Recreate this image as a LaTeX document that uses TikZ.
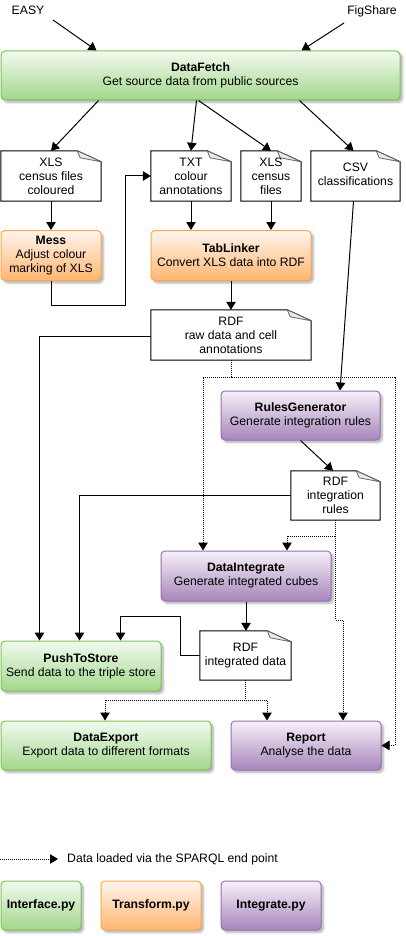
\documentclass[tikz,border=0pt]{standalone}
\usepackage{fontspec}
\setmainfont{Liberation Sans}
\usetikzlibrary{arrows.meta,shadows.blur,calc}
\definecolor{gS}{HTML}{7DC25A}
\definecolor{gT}{HTML}{F3FAF0}
\definecolor{gB}{HTML}{A2D78B}
\definecolor{oS}{HTML}{FFA64D}
\definecolor{oT}{HTML}{FFF5EE}
\definecolor{oB}{HTML}{FFB570}
\definecolor{pS}{HTML}{9A6FB0}
\definecolor{pT}{HTML}{F6F1F9}
\definecolor{pB}{HTML}{A785BA}
\tikzset{
  lbl/.style={font=\fontsize{12.2}{14}\selectfont, align=center, inner sep=0pt},
  box/.style={lbl, rounded corners=4pt, line width=1pt, minimum height=50pt,
    blur shadow={shadow xshift=2.5pt, shadow yshift=-2.5pt, shadow blur radius=2pt, shadow blur steps=5, shadow opacity=30}},
  gbox/.style={box, draw=gS, top color=gT, bottom color=gB},
  obox/.style={box, draw=oS, top color=oT, bottom color=oB},
  pbox/.style={box, draw=pS, top color=pT, bottom color=pB},
  docnode/.style={lbl, minimum height=50pt},
  docline/.style={draw=black, fill=white, line width=1pt},
  foldline/.style={draw=black!60, fill=black!8, line width=0.8pt, line join=round},
  arr/.style={-{Triangle[length=8pt,width=9.5pt]}, line width=1pt},
  plain/.style={line width=1pt},
  sparql/.style={dash pattern=on 1pt off 1pt, line width=1pt},
}
\newcommand{\docout}[1]{%
  \path[docline] (#1.north west) -- ([xshift=-24pt]#1.north east) -- ([yshift=-11pt]#1.north east) -- (#1.south east) -- (#1.south west) -- cycle;
  \path[foldline] ([xshift=-24pt]#1.north east) .. controls ([xshift=-23pt,yshift=-4pt]#1.north east) .. ([xshift=-21pt,yshift=-7pt]#1.north east) -- ([yshift=-11pt]#1.north east) -- cycle;
}
\begin{document}
\begin{tikzpicture}[x=1pt,y=-1pt]
\useasboundingbox (0,0) rectangle (406,936);

% sources
\node[lbl] (EASY) at (28,10) {EASY};
\node[lbl] (FigShare) at (372,11) {FigShare};
\coordinate (e1) at (53,20);
\coordinate (f1) at (344,23);

% main boxes
\node[gbox, minimum width=399pt, minimum height=49pt] (DataFetch) at (200.5,75.5) {\textbf{DataFetch}\\Get source data from public sources};
\node[obox, minimum width=100pt] (Mess) at (51,255.5) {\textbf{Mess}\\Adjust colour\\marking of XLS};
\node[obox, minimum width=160pt] (TabLinker) at (231,255.5) {\textbf{TabLinker}\\Convert XLS data into RDF};
\node[pbox, minimum width=159pt, minimum height=49pt] (RulesGenerator) at (300.5,415.5) {\textbf{RulesGenerator}\\Generate integration rules};
\node[pbox, minimum width=170pt] (DataIntegrate) at (246,576) {\textbf{DataIntegrate}\\Generate integrated cubes};
\node[gbox, minimum width=160pt] (PushToStore) at (81,666) {\textbf{PushToStore}\\Send data to the triple store};
\node[gbox, minimum width=210pt, minimum height=49pt] (DataExport) at (106,745.5) {\textbf{DataExport}\\Export data to different formats};
\node[pbox, minimum width=150pt, minimum height=49pt] (Report) at (306,745.5) {\textbf{Report}\\Analyse the data};

% documents
\node[docnode, minimum width=100pt] (docA) at (51,176) {};
\node[docnode, minimum width=80pt] (docB) at (191,176) {};
\node[docnode, minimum width=60pt] (docC) at (271,176) {};
\node[docnode, minimum width=89pt] (docD) at (355.5,176) {};
\node[docnode, minimum width=160pt] (docE) at (231,335) {};
\node[docnode, minimum width=89pt, minimum height=49pt] (docF) at (335.5,495.5) {};
\node[docnode, minimum width=91pt, minimum height=49pt] (docG) at (245.5,655.5) {};
\docout{docA}\docout{docB}\docout{docC}\docout{docD}\docout{docE}\docout{docF}\docout{docG}
\node[lbl] at (docA) {XLS\\census files\\coloured};
\node[lbl] at (docB) {TXT\\colour\\annotations};
\node[lbl] at (docC) {XLS\\census\\files};
\node[lbl] at ($(docD)+(0,-2)$) {CSV\\classifications};
\node[lbl] at (docE) {RDF\\raw data and cell\\annotations};
\node[lbl] at (docF) {RDF\\integration\\rules};
\node[lbl] at (docG) {RDF\\integrated data};

% legend boxes
\node[gbox, minimum width=80pt, minimum height=49pt, font=\bfseries\fontsize{12.2}{14}\selectfont] (Interface) at (41,905.5) {Interface.py};
\node[obox, minimum width=100pt, minimum height=49pt, font=\bfseries\fontsize{12.2}{14}\selectfont] (Transform) at (151,905.5) {Transform.py};
\node[pbox, minimum width=100pt, minimum height=49pt, font=\bfseries\fontsize{12.2}{14}\selectfont] (Integrate) at (271,905.5) {Integrate.py};

% legend line
\coordinate (l0) at (0,859);
\node[lbl, anchor=west] (legtext) at (67,859) {Data loaded via the SPARQL end point};
\draw[sparql, arr] (l0) -- ($(legtext.west)+(-9,0)$);

% connectors
\draw[arr] (e1) -- ($(DataFetch.north west)+(96,0)$);
\draw[arr] (f1) -- ($(DataFetch.north west)+(301,0)$);
\draw[arr] ($(DataFetch.south west)+(98,0)$) -- (docA.north);
\draw[arr] ($(DataFetch.south west)+(196,0)$) -- (docB.north);
\draw[arr] ($(DataFetch.south west)+(198,0)$) -- (docC.north);
\draw[arr] ($(DataFetch.south west)+(299,0)$) -- ($(docD.north)+(-2,0)$);

\draw[arr] (docA.south) -- (Mess.north);
\coordinate (m1) at (125,305);
\draw[arr] (Mess.south) |- (m1) |- (docB.west);
\draw[arr] (docB.south) -- (docB.south |- TabLinker.north);
\draw[arr] (docC.south) -- (docC.south |- TabLinker.north);
\draw[arr] (TabLinker.south) -- (docE.north);

\draw[arr] ($(docE.west)+(0,1)$) -| ($(PushToStore.north west)+(39,0)$);
\draw[arr] ($(docD.south)+(-2,0)$) -- ($(RulesGenerator.north west)+(119.5,0)$);
\draw[arr] (RulesGenerator.south) -- ($(docF.north)+(-2.5,0)$);
\draw[arr] (docF.west) -| ($(PushToStore.north west)+(79,0)$);
\draw[arr] (DataIntegrate.south) -- (DataIntegrate.south |- docG.north);
\coordinate (g1) at (180,616);
\draw[arr] (docG.west) -| (g1) -| ($(PushToStore.north west)+(120,0)$);

% SPARQL (dotted) connectors
\coordinate (d1) at (203,377);
\coordinate (d2) at (395,377);
\draw[sparql, arr] (docE.south) |- (d1) -- (d1 |- DataIntegrate.north);
\draw[sparql, arr] (docE.south) |- (d2) |- (Report.east);
\coordinate (r1) at (287,536);
\coordinate (r2) at (343,620);
\draw[sparql, arr] (docF.south) |- (r1) -- (r1 |- DataIntegrate.north);
\draw[sparql, arr] (docF.south) |- (r2) -- (r2 |- Report.north);
\coordinate (x1) at (105,700);
\coordinate (x2) at (267,700);
\draw[sparql, arr] (docG.south) |- (x1) -- (x1 |- DataExport.north);
\draw[sparql, arr] (docG.south) |- (x2) -- (x2 |- Report.north);
\end{tikzpicture}
\end{document}
